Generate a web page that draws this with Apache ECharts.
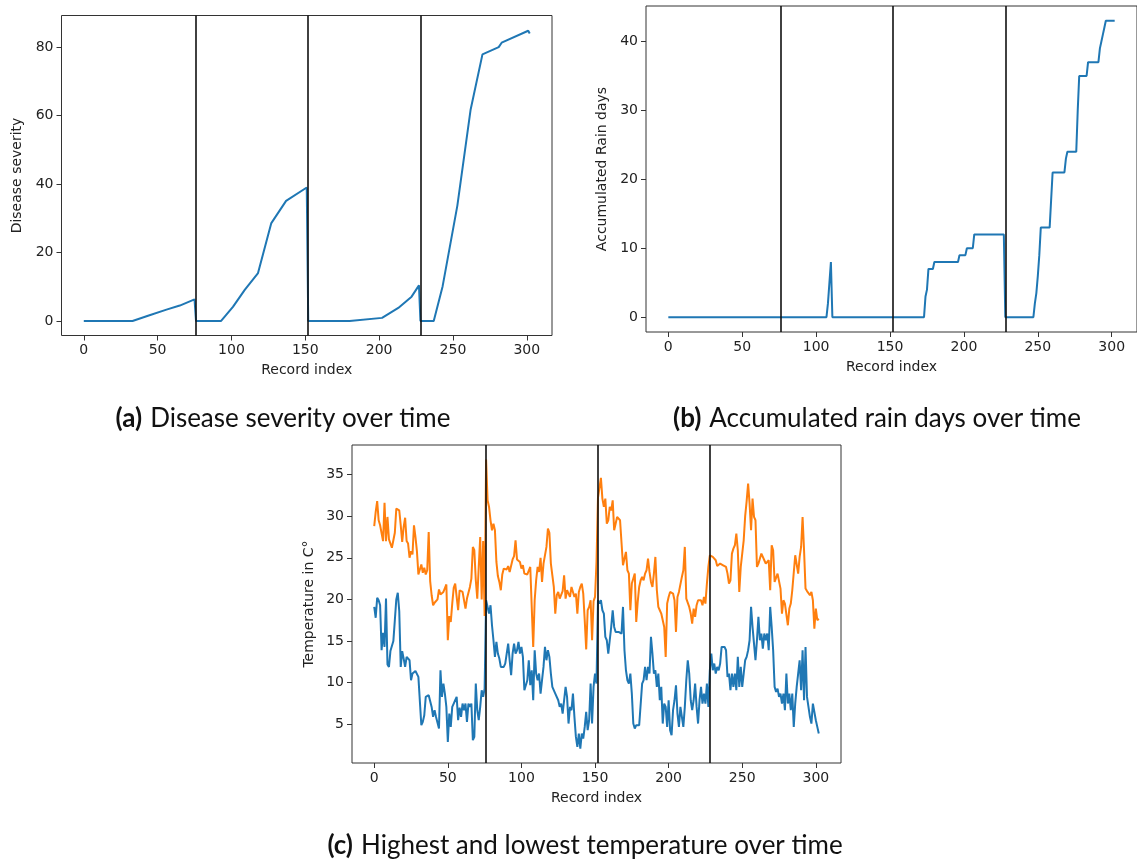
<!DOCTYPE html>
<html><head><meta charset="utf-8">
<script src="https://cdn.jsdelivr.net/npm/echarts@6.0.0/dist/echarts.min.js"></script>
<style>html,body{margin:0;padding:0;background:#fff}#c{width:1137px;height:861px}</style>
</head><body><div id="c"></div>
<script>
// ---------- data ----------
const recordTicks = [0, 50, 100, 150, 200, 250, 300];
const severityTicks = [0, 20, 40, 60, 80];
const rainTicks = [0, 10, 20, 30, 40];
const tempTicks = [5, 10, 15, 20, 25, 30, 35];
const boundaries = [76, 152, 228];

const severityIdx = [0, 33, 44, 56, 65, 75, 76, 93, 101, 109, 118, 127, 137, 151, 152, 180, 202, 213, 222, 227, 228, 237, 243, 253, 262, 270, 281, 283, 301, 302];
const severityVal = [0, 0, 1.6, 3.3, 4.5, 6.3, 0, 0, 4.1, 9.1, 14, 28.6, 35.1, 39, 0, 0, 0.9, 3.8, 7.1, 10.4, 0, 0, 10.1, 33.7, 61.8, 77.9, 80, 81.3, 84.8, 84];

const rainIdx = [0, 107, 108, 109, 110, 111, 173, 174, 175, 176, 179, 180, 196, 197, 201, 202, 206, 207, 227, 228, 247, 248, 249, 250, 251, 252, 258, 259, 260, 268, 269, 270, 276, 277, 278, 283, 284, 291, 292, 293, 294, 295, 296, 302];
const rainVal = [0, 0, 2, 2, 8, 0, 0, 3, 4, 7, 7, 8, 8, 9, 9, 10, 10, 12, 12, 0, 0, 2, 3.5, 6, 9, 13, 13, 17, 21, 21, 23, 24, 24, 30, 35, 35, 37, 37, 39, 40, 41, 42, 43, 43];

const tempHigh = [
28.8,30.5,31.8,29.5,28.9,29.1,27.0,31.6,27.0,29.9,
27.2,27.3,26.2,26.4,28.0,30.9,31.0,30.7,28.9,26.9,
28.7,29.8,27.0,26.7,25.0,25.8,25.4,28.9,27.5,25.8,
23.0,22.8,24.2,23.2,23.8,23.0,23.5,28.1,22.2,20.5,
19.3,19.6,19.8,20.0,21.2,20.6,20.8,20.9,21.0,21.8,
15.1,18.0,17.3,19.5,21.4,21.9,20.3,18.7,21.1,21.1,
20.9,21.1,18.9,20.1,20.3,21.5,22.5,26.3,25.9,22.3,
20.1,23.9,27.5,20.0,27.0,18.0,36.8,31.9,31.1,29.5,
28.3,29.1,28.3,24.5,22.8,22.1,21.1,23.0,23.7,23.5,
23.6,24.0,23.3,23.1,24.8,25.2,27.1,24.8,24.9,24.5,
23.7,24.1,23.1,23.1,23.0,23.1,23.9,23.7,14.3,19.9,
22.3,23.9,23.3,25.0,22.1,24.3,24.1,26.3,28.5,28.0,
24.3,24.1,21.5,18.3,20.5,20.9,20.1,20.3,21.0,22.9,
20.1,21.1,20.7,20.3,21.5,20.9,20.3,20.7,18.3,20.9,
21.5,21.9,20.7,17.5,14.0,18.7,19.1,19.9,15.1,19.8,
20.3,24.5,32.2,32.2,34.6,32.1,31.1,32.1,29.1,29.5,
31.1,30.7,31.9,28.3,28.3,29.9,30.1,29.5,29.5,24.1,
24.1,25.7,23.5,23.1,18.7,21.9,22.5,23.1,17.3,19.7,
21.5,22.3,22.7,22.3,23.1,23.5,24.9,23.3,22.1,21.5,
23.1,25.1,21.1,19.1,18.7,18.3,17.5,16.7,13.1,19.5,
20.3,20.9,20.7,20.7,19.9,16.1,20.3,20.9,21.1,22.7,
23.5,26.3,20.1,19.9,19.1,18.3,17.1,18.9,17.9,19.3,
19.9,19.7,19.9,19.3,20.3,19.5,21.9,23.9,25.3,25.3,
25.1,25.1,24.7,24.0,24.0,24.3,24.5,24.1,23.9,23.9,
23.1,21.9,22.3,25.5,26.1,26.5,27.9,25.9,20.9,23.9,
24.0,27.1,30.0,31.8,33.9,31.5,28.3,32.1,29.9,29.5,
23.9,24.3,24.5,25.5,25.1,24.7,24.3,24.3,24.7,21.1,
26.5,25.9,22.1,22.1,23.1,23.1,21.3,18.3,19.9,19.5,
19.5,16.9,18.9,19.5,21.1,21.1,25.3,25.5,23.1,25.1,
26.3,29.9,25.9,21.3,21.0,20.9,20.5,20.9,19.9,16.5,
18.9,17.5,17.7];

const tempLow = [
19.1,17.8,20.2,19.9,19.3,13.9,16.0,14.3,20.1,12.2,
11.9,13.8,13.7,15.0,17.5,20.0,20.8,18.6,11.9,13.8,
12.9,11.9,13.1,12.9,12.7,10.3,11.1,11.3,11.4,11.5,
10.7,10.9,4.9,5.3,6.1,8.3,8.1,8.5,8.5,7.1,
5.9,6.7,5.9,5.9,4.5,11.5,8.3,9.9,8.7,7.1,
2.9,6.3,4.7,7.1,7.5,7.9,8.3,5.5,7.0,5.9,
7.5,6.7,7.5,5.3,7.5,7.1,7.5,3.1,3.5,9.9,
6.7,5.5,7.1,9.1,8.3,9.3,
19.9,19.1,18.3,19.3,16.9,15.1,13.1,14.9,13.5,12.9,
11.9,11.9,11.9,12.3,13.5,14.7,12.7,10.9,13.5,14.7,
13.5,13.9,14.9,13.5,14.3,13.1,9.1,8.9,10.3,12.7,
9.7,11.5,7.9,13.9,11.1,10.3,11.1,8.7,10.3,11.9,
14.3,12.7,13.9,13.1,11.1,9.5,9.7,8.7,8.7,7.9,
7.1,7.5,6.3,6.1,9.5,8.3,5.1,7.1,6.7,8.7,
5.9,3.5,2.3,3.9,2.1,3.9,3.3,4.7,6.5,4.3,
5.5,9.9,5.1,9.5,11.1,9.9,
19.9,19.5,19.9,18.7,18.3,15.5,15.1,13.5,15.1,16.7,
18.7,16.7,16.1,16.3,16.1,16.3,15.9,19.1,13.9,11.5,
10.3,9.9,11.1,8.7,5.1,4.5,4.9,5.1,4.9,4.7,
9.9,10.3,11.9,10.3,11.9,11.1,15.5,13.5,11.1,11.5,
9.5,11.1,7.9,9.5,5.1,7.5,7.1,4.7,7.9,4.3,
3.7,6.7,7.9,9.7,6.3,4.7,7.1,7.3,4.7,7.1,
10.3,12.7,11.1,7.9,6.7,7.9,9.9,7.1,5.1,7.9,
9.5,7.5,8.7,7.5,9.9,7.1,
11.5,13.5,11.5,12.3,11.1,11.9,11.5,12.3,14.3,14.1,
14.3,13.9,10.7,11.1,9.1,11.1,9.5,11.1,9.1,13.1,
9.5,11.9,9.5,11.1,12.7,13.1,13.9,15.1,19.1,16.7,
14.7,12.7,15.1,17.9,15.1,15.9,14.1,15.9,15.1,15.9,
13.9,19.1,16.7,13.9,9.5,8.9,9.3,8.3,8.7,7.5,
8.7,6.7,11.1,7.5,8.7,6.7,8.7,4.7,7.5,9.5,
11.1,12.7,9.1,13.9,7.9,14.3,8.3,7.1,5.9,5.1,
7.5,7.5,5.5,4.7,3.9];

const captionTags = ['(a)', '(b)', '(c)'];
const captionTexts = ['Disease severity over time', 'Accumulated rain days over time', 'Highest and lowest temperature over time'];
const xTitle = 'Record index';
const yTitles = ['Disease severity', 'Accumulated Rain days', 'Temperature in C°'];

// ---------- chart ----------
const BLUE = '#1f77b4', ORANGE = '#ff7f0e';
const FONT = 'DejaVu Sans';
const zip = (a, b) => a.map((v, i) => [v, b[i]]);

const grids = [
  {left: 61.5, top: 15.5, width: 490.5, height: 320},
  {left: 646, top: 6, width: 506, height: 326},
  {left: 352, top: 445, width: 489, height: 318}
].map(g => Object.assign(g, {show: true, borderColor: '#333', borderWidth: 1, backgroundColor: 'transparent', containLabel: false}));

const yRanges = [[-4.25, 89.25], [-2.15, 45.15], [0.365, 38.535]];
const yTickSets = [severityTicks, rainTicks, tempTicks];
const yNameGaps = [37, 37, 36];
const xNameGaps = [28, 28, 28];

const axisCommon = {
  axisLine: {show: false, onZero: false},
  splitLine: {show: false},
  axisTick: {show: true, inside: false, length: 5, lineStyle: {color: '#333', width: 1}},
  nameTextStyle: {fontFamily: FONT, fontSize: 14, color: '#222'}
};

const xAxes = [0, 1, 2].map(i => Object.assign({}, axisCommon, {
  type: 'value', gridIndex: i, min: -15.1, max: 317.1, position: 'bottom',
  name: xTitle, nameLocation: 'middle', nameGap: xNameGaps[i],
  axisTick: Object.assign({}, axisCommon.axisTick, {customValues: recordTicks}),
  axisLabel: {customValues: recordTicks, fontFamily: FONT, fontSize: 14, color: '#222', margin: 8}
}));
const yAxes = [0, 1, 2].map(i => Object.assign({}, axisCommon, {
  type: 'value', gridIndex: i, min: yRanges[i][0], max: yRanges[i][1], position: 'left',
  name: yTitles[i], nameLocation: 'middle', nameGap: yNameGaps[i],
  axisTick: Object.assign({}, axisCommon.axisTick, {customValues: yTickSets[i]}),
  axisLabel: {customValues: yTickSets[i], fontFamily: FONT, fontSize: 14, color: '#222', margin: 8}
}));

const boundaryLines = {
  silent: true, symbol: ['none', 'none'], label: {show: false}, animation: false,
  lineStyle: {color: '#111', width: 1.6, type: 'solid'},
  emphasis: {disabled: true},
  data: boundaries.map(b => ({xAxis: b}))
};

const lineBase = {type: 'line', showSymbol: false, symbol: 'none', animation: false, emphasis: {disabled: true}, clip: true};

const series = [
  Object.assign({}, lineBase, {xAxisIndex: 0, yAxisIndex: 0, data: zip(severityIdx, severityVal),
    lineStyle: {color: BLUE, width: 2}, markLine: boundaryLines}),
  Object.assign({}, lineBase, {xAxisIndex: 1, yAxisIndex: 1, data: zip(rainIdx, rainVal),
    lineStyle: {color: BLUE, width: 2}, markLine: boundaryLines}),
  Object.assign({}, lineBase, {xAxisIndex: 2, yAxisIndex: 2, data: tempLow.map((v, i) => [i, v]),
    lineStyle: {color: BLUE, width: 2}}),
  Object.assign({}, lineBase, {xAxisIndex: 2, yAxisIndex: 2, data: tempHigh.map((v, i) => [i, v]),
    lineStyle: {color: ORANGE, width: 2}, markLine: boundaryLines})
];

const captionPos = [[283, 419], [877, 419], [585, 846]];
const graphic = captionPos.map((p, i) => ({
  type: 'text', x: p[0], y: p[1], silent: true,
  style: {
    text: '{b|' + captionTags[i] + '}' + '{n|' + captionTexts[i] + '}',
    align: 'center', verticalAlign: 'middle', textAlign: 'center', textVerticalAlign: 'middle',
    rich: {
      b: {fontFamily: 'Lato', fontWeight: 'bold', fontSize: 26, fill: '#111', padding: [0, 8, 0, 0]},
      n: {fontFamily: 'Lato', fontSize: 26, fill: '#111'}
    }
  }
}));

const chart = echarts.init(document.getElementById('c'), null, {renderer: 'canvas'});
chart.setOption({
  animation: false,
  backgroundColor: '#ffffff',
  grid: grids,
  xAxis: xAxes,
  yAxis: yAxes,
  series: series,
  graphic: graphic
});
</script>
</body></html>
